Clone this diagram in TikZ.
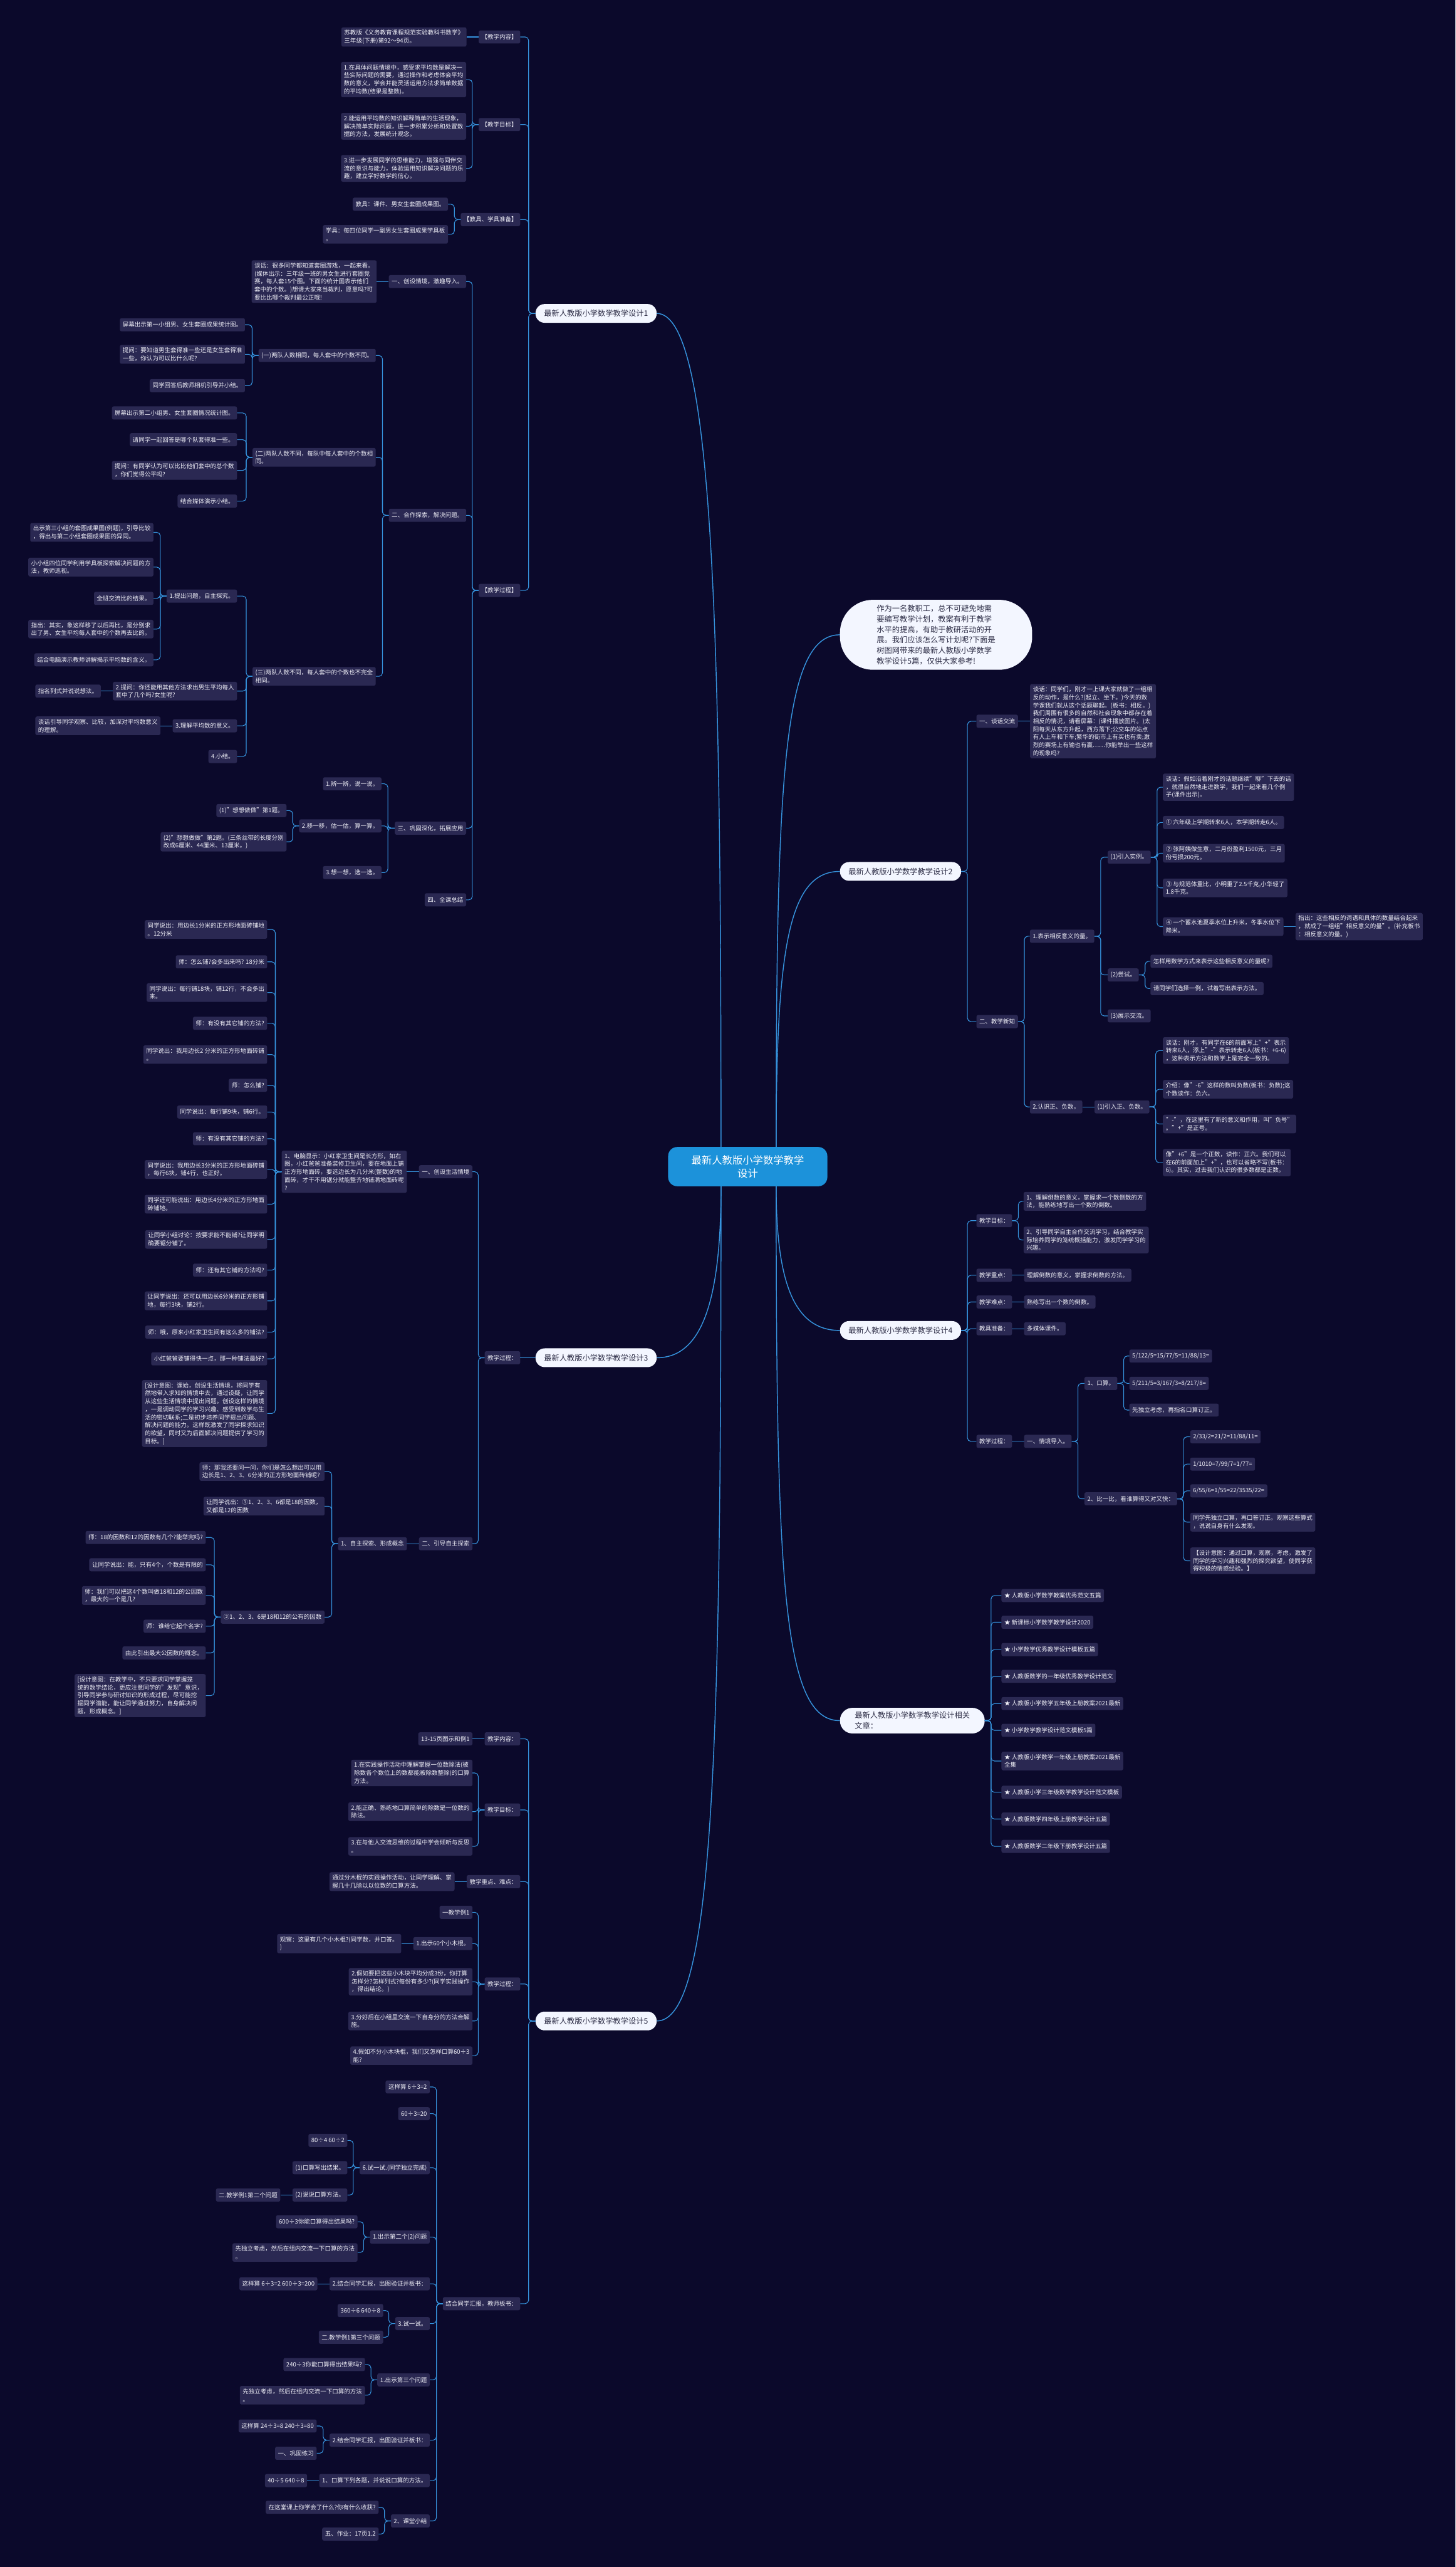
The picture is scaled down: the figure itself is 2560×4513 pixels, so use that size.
\documentclass[tikz,border=0pt]{standalone}
\usepackage{fontspec}
\setmainfont{Noto Sans CJK SC}
\usepackage{tikz}
\usetikzlibrary{positioning}
\definecolor{bgnavy}{RGB}{11, 9, 43}
\definecolor{boxfill}{RGB}{42, 40, 82}
\definecolor{boxtext}{RGB}{238, 238, 246}
\definecolor{linkblue}{RGB}{54, 148, 222}
\definecolor{rootfill}{RGB}{243, 246, 255}
\definecolor{roottext}{RGB}{45, 45, 70}
\definecolor{hubblue}{RGB}{28, 146, 218}
\newcommand\leaffont{\fontsize{10.5pt}{14pt}\selectfont}
\newcommand\rootfont{\fontsize{13.5pt}{18.5pt}\selectfont}
\newcommand\hubfont{\fontsize{18pt}{23pt}\selectfont}

\begin{document}
\begin{tikzpicture}[
    x=1pt, y=-1pt,
    box/.style={rectangle, rounded corners=3pt, fill=boxfill, text=boxtext, font=\leaffont, align=left, inner xsep=5pt, inner ysep=4.5pt, minimum height=23pt},
    rootbox/.style={rectangle, rounded corners=16pt, fill=rootfill, text=roottext, font=\rootfont, align=left, inner xsep=15pt, minimum height=33pt},
    hubbox/.style={rectangle, rounded corners=16pt, fill=hubblue, text=white, font=\hubfont, align=center, minimum width=280pt, minimum height=69pt},
    introbox/.style={rectangle, rounded corners=58pt, fill=rootfill, text=roottext, font=\rootfont, align=left, minimum width=338pt, minimum height=123pt},
    link/.style={draw=linkblue, line width=1.2pt, rounded corners=6pt},
    trunk/.style={draw=linkblue, line width=1.6pt}
]
\fill[bgnavy] (0,0) rectangle (2560,4513);
\useasboundingbox (0,0) rectangle (2560,4513);

% Centre
\node[hubbox] (hub) at (1315,2051) {最新人教版小学数学教学\\设计};
\node[introbox, anchor=west] (intro) at (1477,1116) {作为一名教职工，总不可避免地需\\要编写教学计划，教案有利于教学\\水平的提高，有助于教研活动的开\\展。我们应该怎么写计划呢?下面是\\树图网带来的最新人教版小学数学\\教学设计5篇，仅供大家参考!};

% Design 1
\node[rootbox, anchor=east] (b1) at (1155,551) {最新人教版小学数学教学设计1};
\node[box, anchor=east] (b1k1) at (915,65) {【教学内容】};
\node[box, left=21pt of b1k1] (b1k1a) {苏教版《义务教育课程规范实验教科书数学》\\三年级(下册)第92～94页。};
\node[box, anchor=east] (b1k2) at (915,219) {【教学目标】};
\node[box, anchor=east] (b1k2a) at (820,140) {1.在具体问题情境中，感受求平均数是解决一\\些实际问题的需要，通过操作和考虑体会平均\\数的意义，学会并能灵活运用方法求简单数据\\的平均数(结果是整数)。};
\node[box, anchor=east] (b1k2b) at (820,222) {2.能运用平均数的知识解释简单的生活现象，\\解决简单实际问题，进一步积累分析和处置数\\据的方法，发展统计观念。};
\node[box, anchor=east] (b1k2c) at (820,296) {3.进一步发展同学的思维能力，增强与同伴交\\流的意识与能力，体验运用知识解决问题的乐\\趣，建立学好数学的信心。};
\node[box, anchor=east] (b1k3) at (915,386) {【教具、学具准备】};
\node[box, anchor=east] (b1k3a) at (788,359) {教具：课件、男女生套圈成果图。};
\node[box, anchor=east] (b1k3b) at (788,412) {学具：每四位同学一副男女生套圈成果学具板\\。};
\node[box, anchor=east] (b1k4) at (915,1038) {【教学过程】};
\node[box, anchor=east] (b1p1) at (820,495) {一、创设情境，激趣导入。};
\node[box, left=21pt of b1p1] (b1p1a) {谈话：很多同学都知道套圈游戏，一起来看。\\(媒体出示：三年级一班的男女生进行套圈竞\\赛，每人套15个圈。下面的统计图表示他们\\套中的个数。)想请大家来当裁判，愿意吗?可\\要比比哪个裁判最公正哦!};
\node[box, anchor=east] (b1p2) at (820,906) {二、合作探索，解决问题。};
\node[box, anchor=east] (b1q1) at (661,625) {(一)两队人数相同，每人套中的个数不同。};
\node[box, anchor=east] (b1q1a) at (431,571) {屏幕出示第一小组男、女生套圈成果统计图。};
\node[box, anchor=east] (b1q1b) at (431,623) {提问：要知道男生套得准一些还是女生套得准\\一些，你认为可以比什么呢?};
\node[box, anchor=east] (b1q1c) at (431,678) {同学回答后教师相机引导并小结。};
\node[box, anchor=east] (b1q2) at (661,804) {(二)两队人数不同，每队中每人套中的个数相\\同。};
\node[box, anchor=east] (b1q2a) at (417,726) {屏幕出示第二小组男、女生套圈情况统计图。};
\node[box, anchor=east] (b1q2b) at (417,773) {请同学一起回答是哪个队套得准一些。};
\node[box, anchor=east] (b1q2c) at (417,827) {提问：有同学认为可以比比他们套中的总个数\\，你们觉得公平吗?};
\node[box, anchor=east] (b1q2d) at (417,881) {结合媒体演示小结。};
\node[box, anchor=east] (b1q3) at (661,1189) {(三)两队人数不同，每人套中的个数也不完全\\相同。};
\node[box, anchor=east] (b1r1) at (417,1048) {1.提出问题，自主探究。};
\node[box, anchor=east] (b1r1a) at (270,936) {出示第三小组的套圈成果图(例题)，引导比较\\，得出与第二小组套圈成果图的异同。};
\node[box, anchor=east] (b1r1b) at (270,997) {小小组四位同学利用学具板探索解决问题的方\\法，教师巡视。};
\node[box, anchor=east] (b1r1c) at (270,1052) {全班交流比的结果。};
\node[box, anchor=east] (b1r1d) at (270,1106) {指出：其实，象这样移了以后再比，是分别求\\出了男、女生平均每人套中的个数再去比的。};
\node[box, anchor=east] (b1r1e) at (270,1160) {结合电脑演示教师讲解揭示平均数的含义。};
\node[box, anchor=east] (b1r2) at (417,1215) {2.提问：你还能用其他方法求出男生平均每人\\套中了几个吗?女生呢?};
\node[box, left=21pt of b1r2] (b1r2a) {指名列式并说说想法。};
\node[box, anchor=east] (b1r3) at (417,1276) {3.理解平均数的意义。};
\node[box, left=21pt of b1r3] (b1r3a) {谈话引导同学观察、比较，加深对平均数意义\\的理解。};
\node[box, anchor=east] (b1r4) at (417,1330) {4.小结。};
\node[box, anchor=east] (b1p3) at (820,1456) {三、巩固深化，拓展应用};
\node[box, anchor=east] (b1s1) at (671,1378) {1.辨一辨，说一说。};
\node[box, anchor=east] (b1s2) at (671,1452) {2.移一移，估一估，算一算。};
\node[box, anchor=east] (b1s2a) at (504,1425) {(1)"想想做做"第1题。};
\node[box, anchor=east] (b1s2b) at (504,1480) {(2)"想想做做"第2题。(三条丝带的长度分别\\改成6厘米、44厘米、13厘米。)};
\node[box, anchor=east] (b1s3) at (671,1534) {3.想一想，选一选。};
\node[box, anchor=east] (b1p4) at (820,1582) {四、全课总结};

% Design 3
\node[rootbox, anchor=east] (b3) at (1155,2387) {最新人教版小学数学教学设计3};
\node[box, anchor=east] (b3k) at (915,2387) {教学过程：};
\node[box, anchor=east] (b3p1) at (831,2060) {一、创设生活情境};
\node[box, left=21pt of b3p1] (b3p1a) {1、电脑显示：小红家卫生间是长方形，如右\\图，小红爸爸准备装修卫生间，要在地面上铺\\正方形地面砖，要选边长为几分米(整数)的地\\面砖，才干不用锯分就能整齐地铺满地面砖呢\\?};
\node[box, anchor=east] (b3c1) at (470,1634) {同学说出：用边长1分米的正方形地面砖铺地\\。12分米};
\node[box, anchor=east] (b3c2) at (470,1691) {师：怎么铺?会多出来吗? 18分米};
\node[box, anchor=east] (b3c3) at (470,1745) {同学说出：每行铺18块，铺12行，不会多出\\来。};
\node[box, anchor=east] (b3c4) at (470,1799) {师：有没有其它铺的方法?};
\node[box, anchor=east] (b3c5) at (470,1854) {同学说出：我用边长2 分米的正方形地面砖铺\\。};
\node[box, anchor=east] (b3c6) at (470,1908) {师：怎么铺?};
\node[box, anchor=east] (b3c7) at (470,1955) {同学说出：每行铺9块，铺6行。};
\node[box, anchor=east] (b3c8) at (470,2002) {师：有没有其它铺的方法?};
\node[box, anchor=east] (b3c9) at (470,2056) {同学说出：我用边长3分米的正方形地面砖铺\\，每行6块，铺4行，也正好。};
\node[box, anchor=east] (b3c10) at (470,2117) {同学还可能说出：用边长4分米的正方形地面\\砖铺地。};
\node[box, anchor=east] (b3c11) at (470,2179) {让同学小组讨论：按要求能不能铺?让同学明\\确要锯分铺了。};
\node[box, anchor=east] (b3c12) at (470,2233) {师：还有其它铺的方法吗?};
\node[box, anchor=east] (b3c13) at (470,2287) {让同学说出：还可以用边长6分米的正方形铺\\地，每行3块，铺2行。};
\node[box, anchor=east] (b3c14) at (470,2342) {师：哦，原来小红家卫生间有这么多的铺法?};
\node[box, anchor=east] (b3c15) at (470,2389) {小红爸爸要铺得快一点，那一种铺法最好?};
\node[box, anchor=east] (b3c16) at (470,2485) {[设计意图：课始，创设生活情境，将同学有\\然地带入求知的情境中去，通过设疑，让同学\\从这些生活情境中提出问题。创设这样的情境\\，一是调动同学的学习兴趣、感受到数学与生\\活的密切联系;二是初步培养同学提出问题、\\解决问题的能力。这样既激发了同学探求知识\\的欲望，同时又为后面解决问题提供了学习的\\目标。]};
\node[box, anchor=east] (b3p2) at (831,2714) {二、引导自主探索};
\node[box, left=21pt of b3p2] (b3p2a) {1、自主探索、形成概念};
\node[box, anchor=east] (b3d1) at (571,2587) {师：那我还要问一问，你们是怎么想出可以用\\边长是1、2、3、6分米的正方形地面砖铺呢?};
\node[box, anchor=east] (b3d2) at (571,2648) {让同学说出：①1、2、3、6都是18的因数，\\又都是12的因数};
\node[box, anchor=east] (b3d3) at (571,2843) {②1、2、3、6是18和12的公有的因数};
\node[box, anchor=east] (b3e1) at (362,2703) {师：18的因数和12的因数有几个?能举完吗?};
\node[box, anchor=east] (b3e2) at (362,2751) {让同学说出：能，只有4个，个数是有限的};
\node[box, anchor=east] (b3e3) at (362,2805) {师：我们可以把这4个数叫做18和12的公因数\\，最大的一个是几?};
\node[box, anchor=east] (b3e4) at (362,2859) {师：谁给它起个名字?};
\node[box, anchor=east] (b3e5) at (362,2906) {由此引出最大公因数的概念。};
\node[box, anchor=east] (b3e6) at (362,2981) {[设计意图：在教学中，不只要求同学掌握笼\\统的数学结论，更应注意同学的"发现"意识，\\引导同学参与研讨知识的形成过程，尽可能挖\\掘同学潜能，能让同学通过努力，自身解决问\\题，形成概念。]};

% Design 5
\node[rootbox, anchor=east] (b5) at (1155,3553) {最新人教版小学数学教学设计5};
\node[box, anchor=east] (b5k1) at (915,3057) {教学内容：};
\node[box, left=21pt of b5k1] (b5k1a) {13-15页图示和例1};
\node[box, anchor=east] (b5k2) at (915,3182) {教学目标：};
\node[box, anchor=east] (b5k2a) at (831,3117) {1.在实践操作活动中理解掌握一位数除法(被\\除数各个数位上的数都能被除数整除)的口算\\方法。};
\node[box, anchor=east] (b5k2b) at (831,3185) {2.能正确、熟练地口算简单的除数是一位数的\\除法。};
\node[box, anchor=east] (b5k2c) at (831,3246) {3.在与他人交流思维的过程中学会倾听与反思\\。};
\node[box, anchor=east] (b5k3) at (915,3308) {教学重点、难点：};
\node[box, left=21pt of b5k3] (b5k3a) {通过分木棍的实践操作活动，让同学理解、掌\\握几十几除以以位数的口算方法。};
\node[box, anchor=east] (b5k4) at (915,3488) {教学过程：};
\node[box, anchor=east] (b5g1) at (831,3362) {一教学例1};
\node[box, anchor=east] (b5g2) at (831,3417) {1.出示60个小木棍。};
\node[box, left=21pt of b5g2] (b5g2a) {观察：这里有几个小木棍?(同学数，并口答。\\)};
\node[box, anchor=east] (b5g3) at (831,3484) {2.假如要把这些小木块平均分成3份，你打算\\怎样分?怎样列式?每份有多少?(同学实践操作\\，得出结论。)};
\node[box, anchor=east] (b5g4) at (831,3553) {3.分好后在小组里交流一下自身分的方法合解\\施。};
\node[box, anchor=east] (b5g5) at (831,3614) {4.假如不分小木块棍，我们又怎样口算60÷3\\能?};
\node[box, anchor=east] (b5k5) at (915,4050) {结合同学汇报，教师板书：};
\node[box, anchor=east] (b5h1) at (756,3669) {这样算 6÷3=2};
\node[box, anchor=east] (b5h2) at (756,3716) {60÷3=20};
\node[box, anchor=east] (b5h3) at (756,3811) {6.试一试.(同学独立完成)};
\node[box, anchor=east] (b5h3a) at (611,3763) {80÷4 60÷2};
\node[box, anchor=east] (b5h3b) at (611,3811) {(1)口算写出结果。};
\node[box, anchor=east] (b5h3c) at (611,3859) {(2)说说口算方法。};
\node[box, left=21pt of b5h3c] (b5h3d) {二.教学例1第二个问题};
\node[box, anchor=east] (b5h4) at (756,3933) {1.出示第二个(2)问题};
\node[box, anchor=east] (b5h4a) at (629,3906) {600÷3你能口算得出结果吗?};
\node[box, anchor=east] (b5h4b) at (629,3960) {先独立考虑，然后在组内交流一下口算的方法\\。};
\node[box, anchor=east] (b5h5) at (756,4015) {2.结合同学汇报，出图验证并板书：};
\node[box, left=21pt of b5h5] (b5h5a) {这样算 6÷3=2 600÷3=200};
\node[box, anchor=east] (b5h6) at (756,4085) {3.试一试。};
\node[box, anchor=east] (b5h6a) at (674,4062) {360÷6 640÷8};
\node[box, anchor=east] (b5h6b) at (674,4109) {二.教学例1第三个问题};
\node[box, anchor=east] (b5h7) at (756,4184) {1.出示第三个问题};
\node[box, anchor=east] (b5h7a) at (642,4157) {240÷3你能口算得出结果吗?};
\node[box, anchor=east] (b5h7b) at (642,4211) {先独立考虑，然后在组内交流一下口算的方法\\。};
\node[box, anchor=east] (b5h8) at (756,4290) {2.结合同学汇报，出图验证并板书：};
\node[box, anchor=east] (b5h8a) at (557,4265) {这样算 24÷3=8 240÷3=80};
\node[box, anchor=east] (b5h8b) at (557,4313) {一、巩固练习};
\node[box, anchor=east] (b5h9) at (756,4361) {1、口算下列各题，并说说口算的方法。};
\node[box, left=21pt of b5h9] (b5h9a) {40÷5 640÷8};
\node[box, anchor=east] (b5h10) at (756,4432) {2、课堂小结};
\node[box, anchor=east] (b5h10a) at (666,4408) {在这堂课上你学会了什么?你有什么收获?};
\node[box, anchor=east] (b5h10b) at (666,4455) {五、作业：17页1.2};

% Design 2
\node[rootbox, anchor=west] (b2) at (1477,1532) {最新人教版小学数学教学设计2};
\node[box, anchor=west] (b2k1) at (1717,1268) {一、谈话交流};
\node[box, right=21pt of b2k1] (b2k1a) {谈话：同学们，刚才一上课大家就做了一组相\\反的动作，是什么?(起立、坐下。)今天的数\\学课我们就从这个话题聊起。(板书：相反。)\\我们周围有很多的自然和社会现象中都存在着\\相反的情况，请看屏幕：(课件播放图片。)太\\阳每天从东方升起，西方落下;公交车的站点\\有人上车和下车;繁华的街市上有买也有卖;激\\烈的赛场上有输也有赢……你能举出一些这样\\的现象吗?};
\node[box, anchor=west] (b2k2) at (1717,1796) {二、教学新知};
\node[box, anchor=west] (b2m1) at (1811,1646) {1.表示相反意义的量。};
\node[box, anchor=west] (b2n1) at (1948,1507) {(1)引入实例。};
\node[box, anchor=west] (b2n1a) at (2045,1384) {谈话：假如沿着刚才的话题继续"聊"下去的话\\，就很自然地走进数学，我们一起来看几个例\\子(课件出示)。};
\node[box, anchor=west] (b2n1b) at (2045,1446) {① 六年级上学期转来6人，本学期转走6人。};
\node[box, anchor=west] (b2n1c) at (2045,1500) {② 张阿姨做生意，二月份盈利1500元，三月\\份亏损200元。};
\node[box, anchor=west] (b2n1d) at (2045,1561) {③ 与规范体重比，小明重了2.5千克,小华轻了\\1.8千克。};
\node[box, anchor=west] (b2n1e) at (2045,1629) {④ 一个蓄水池夏季水位上升米，冬季水位下\\降米。};
\node[box, right=21pt of b2n1e] (b2n1f) {指出：这些相反的词语和具体的数量结合起来\\，就成了一组组"相反意义的量"。(补充板书\\：相反意义的量。)};
\node[box, anchor=west] (b2n2) at (1948,1714) {(2)尝试。};
\node[box, anchor=west] (b2n2a) at (2023,1690) {怎样用数学方式来表示这些相反意义的量呢?};
\node[box, anchor=west] (b2n2b) at (2023,1738) {请同学们选择一例，试着写出表示方法。};
\node[box, anchor=west] (b2n3) at (1948,1786) {(3)展示交流。};
\node[box, anchor=west] (b2m2) at (1811,1946) {2.认识正、负数。};
\node[box, right=21pt of b2m2] (b2n4) {(1)引入正、负数。};
\node[box, anchor=west] (b2n4a) at (2045,1847) {谈话：刚才，有同学在6的前面写上"+"表示\\转来6人，添上"-"表示转走6人(板书：+6-6)\\，这种表示方法和数学上是完全一致的。};
\node[box, anchor=west] (b2n4b) at (2045,1915) {介绍：像"-6"这样的数叫负数(板书：负数);这\\个数读作：负六。};
\node[box, anchor=west] (b2n4c) at (2045,1976) {"-"，在这里有了新的意义和作用，叫"负号"\\。"+"是正号。};
\node[box, anchor=west] (b2n4d) at (2045,2044) {像"+6"是一个正数，读作：正六。我们可以\\在6的前面加上"+"，也可以省略不写(板书：\\6)。其实，过去我们认识的很多数都是正数。};

% Design 4
\node[rootbox, anchor=west] (b4) at (1477,2339) {最新人教版小学数学教学设计4};
\node[box, anchor=west] (b4k1) at (1717,2146) {教学目标：};
\node[box, anchor=west] (b4k1a) at (1800,2112) {1、理解倒数的意义，掌握求一个数倒数的方\\法，能熟练地写出一个数的倒数。};
\node[box, anchor=west] (b4k1b) at (1800,2180) {2、引导同学自主合作交流学习，结合教学实\\际培养同学的笼统概括能力，激发同学学习的\\兴趣。};
\node[box, anchor=west] (b4k2) at (1717,2242) {教学重点：};
\node[box, right=21pt of b4k2] (b4k2a) {理解倒数的意义，掌握求倒数的方法。};
\node[box, anchor=west] (b4k3) at (1717,2289) {教学难点：};
\node[box, right=21pt of b4k3] (b4k3a) {熟练写出一个数的倒数。};
\node[box, anchor=west] (b4k4) at (1717,2336) {教具准备：};
\node[box, right=21pt of b4k4] (b4k4a) {多媒体课件。};
\node[box, anchor=west] (b4k5) at (1717,2534) {教学过程：};
\node[box, right=21pt of b4k5] (b4j) {一、情境导入。};
\node[box, anchor=west] (b4j1) at (1907,2432) {1、口算。};
\node[box, anchor=west] (b4j1a) at (1986,2384) {5/122/5=15/77/5=11/88/13=};
\node[box, anchor=west] (b4j1b) at (1986,2432) {5/211/5=3/167/3=8/217/8=};
\node[box, anchor=west] (b4j1c) at (1986,2479) {先独立考虑，再指名口算订正。};
\node[box, anchor=west] (b4j2) at (1907,2635) {2、比一比，看谁算得又对又快：};
\node[box, anchor=west] (b4j2a) at (2093,2526) {2/33/2=21/2=11/88/11=};
\node[box, anchor=west] (b4j2b) at (2093,2574) {1/1010=7/99/7=1/77=};
\node[box, anchor=west] (b4j2c) at (2093,2621) {6/55/6=1/55=22/3535/22=};
\node[box, anchor=west] (b4j2d) at (2093,2676) {同学先独立口算，再口答订正。观察这些算式\\，说说自身有什么发现。};
\node[box, anchor=west] (b4j2e) at (2093,2744) {【设计意图：通过口算，观察，考虑，激发了\\同学的学习兴趣和强烈的探究欲望，使同学获\\得积极的情感经验。】};

% Related articles
\node[rootbox, anchor=west, inner xsep=26pt, inner ysep=7pt, rounded corners=22pt] (b6) at (1477,3025) {最新人教版小学数学教学设计相关\\文章：};
\node[box, anchor=west] (b6a1) at (1761,2805) {★ 人教版小学数学教案优秀范文五篇};
\node[box, anchor=west] (b6a2) at (1761,2852) {★ 新课标小学数学教学设计2020};
\node[box, anchor=west] (b6a3) at (1761,2900) {★ 小学数学优秀教学设计模板五篇};
\node[box, anchor=west] (b6a4) at (1761,2947) {★ 人教版数学的一年级优秀教学设计范文};
\node[box, anchor=west] (b6a5) at (1761,2995) {★ 人教版小学数学五年级上册教案2021最新};
\node[box, anchor=west] (b6a6) at (1761,3042) {★ 小学数学教学设计范文模板5篇};
\node[box, anchor=west] (b6a7) at (1761,3096) {★ 人教版小学数学一年级上册教案2021最新\\全集};
\node[box, anchor=west] (b6a8) at (1761,3151) {★ 人教版小学三年级数学教学设计范文模板};
\node[box, anchor=west] (b6a9) at (1761,3198) {★ 人教版数学四年级上册教学设计五篇};
\node[box, anchor=west] (b6a10) at (1761,3246) {★ 人教版数学二年级下册教学设计五篇};

% Trunk curves from the centre
\draw[trunk] ([xshift=-47pt]hub.north) .. controls +(0,-900) and +(100,0) .. (b1.east);
\draw[trunk] ([xshift=-47pt]hub.south) .. controls +(0,200) and +(80,0) .. (b3.east);
\draw[trunk] ([xshift=-47pt]hub.south) .. controls +(0,1000) and +(100,0) .. (b5.east);
\draw[trunk] ([xshift=50pt]hub.north) .. controls +(0,-650) and +(-100,0) .. (intro.west);
\draw[trunk] ([xshift=50pt]hub.north) .. controls +(0,-350) and +(-90,0) .. (b2.west);
\draw[trunk] ([xshift=50pt]hub.south) .. controls +(0,170) and +(-80,0) .. (b4.west);
\draw[trunk] ([xshift=50pt]hub.south) .. controls +(0,700) and +(-100,0) .. (b6.west);

% Links, design 1
\foreach \c in {b1k1,b1k2,b1k3,b1k4} \draw[link] (b1.west) -- ++(-12,0) |- (\c.east);
\draw[link] (b1k1.west) -- (b1k1a.east);
\foreach \c in {b1k2a,b1k2b,b1k2c} \draw[link] (b1k2.west) -- ++(-11,0) |- (\c.east);
\foreach \c in {b1k3a,b1k3b} \draw[link] (b1k3.west) -- ++(-11,0) |- (\c.east);
\foreach \c in {b1p1,b1p2,b1p3,b1p4} \draw[link] (b1k4.west) -- ++(-11,0) |- (\c.east);
\draw[link] (b1p1.west) -- (b1p1a.east);
\foreach \c in {b1q1,b1q2,b1q3} \draw[link] (b1p2.west) -- ++(-11,0) |- (\c.east);
\foreach \c in {b1q1a,b1q1b,b1q1c} \draw[link] (b1q1.west) -- ++(-11,0) |- (\c.east);
\foreach \c in {b1q2a,b1q2b,b1q2c,b1q2d} \draw[link] (b1q2.west) -- ++(-11,0) |- (\c.east);
\foreach \c in {b1r1,b1r2,b1r3,b1r4} \draw[link] (b1q3.west) -- ++(-11,0) |- (\c.east);
\foreach \c in {b1r1a,b1r1b,b1r1c,b1r1d,b1r1e} \draw[link] (b1r1.west) -- ++(-11,0) |- (\c.east);
\draw[link] (b1r2.west) -- (b1r2a.east);
\draw[link] (b1r3.west) -- (b1r3a.east);
\foreach \c in {b1s1,b1s2,b1s3} \draw[link] (b1p3.west) -- ++(-12,0) |- (\c.east);
\foreach \c in {b1s2a,b1s2b} \draw[link] (b1s2.west) -- ++(-11,0) |- (\c.east);

% Links, design 3
\draw[link] (b3.west) -- (b3k.east);
\foreach \c in {b3p1,b3p2} \draw[link] (b3k.west) -- ++(-11,0) |- (\c.east);
\draw[link] (b3p1.west) -- (b3p1a.east);
\foreach \i in {1,...,16} \draw[link] (b3p1a.west) -- ++(-11,0) |- (b3c\i.east);
\draw[link] (b3p2.west) -- (b3p2a.east);
\foreach \c in {b3d1,b3d2,b3d3} \draw[link] (b3p2a.west) -- ++(-11,0) |- (\c.east);
\foreach \i in {1,...,6} \draw[link] (b3d3.west) -- ++(-11,0) |- (b3e\i.east);

% Links, design 5
\foreach \c in {b5k1,b5k2,b5k3,b5k4,b5k5} \draw[link] (b5.west) -- ++(-12,0) |- (\c.east);
\draw[link] (b5k1.west) -- (b5k1a.east);
\foreach \c in {b5k2a,b5k2b,b5k2c} \draw[link] (b5k2.west) -- ++(-11,0) |- (\c.east);
\draw[link] (b5k3.west) -- (b5k3a.east);
\foreach \i in {1,...,5} \draw[link] (b5k4.west) -- ++(-11,0) |- (b5g\i.east);
\draw[link] (b5g2.west) -- (b5g2a.east);
\foreach \i in {1,...,10} \draw[link] (b5k5.west) -- ++(-11,0) |- (b5h\i.east);
\foreach \c in {b5h3a,b5h3b,b5h3c} \draw[link] (b5h3.west) -- ++(-11,0) |- (\c.east);
\draw[link] (b5h3c.west) -- (b5h3d.east);
\foreach \c in {b5h4a,b5h4b} \draw[link] (b5h4.west) -- ++(-11,0) |- (\c.east);
\draw[link] (b5h5.west) -- (b5h5a.east);
\foreach \c in {b5h6a,b5h6b} \draw[link] (b5h6.west) -- ++(-11,0) |- (\c.east);
\foreach \c in {b5h7a,b5h7b} \draw[link] (b5h7.west) -- ++(-11,0) |- (\c.east);
\foreach \c in {b5h8a,b5h8b} \draw[link] (b5h8.west) -- ++(-11,0) |- (\c.east);
\draw[link] (b5h9.west) -- (b5h9a.east);
\foreach \c in {b5h10a,b5h10b} \draw[link] (b5h10.west) -- ++(-11,0) |- (\c.east);

% Links, design 2
\foreach \c in {b2k1,b2k2} \draw[link] (b2.east) -- ++(11,0) |- (\c.west);
\draw[link] (b2k1.east) -- (b2k1a.west);
\foreach \c in {b2m1,b2m2} \draw[link] (b2k2.east) -- ++(11,0) |- (\c.west);
\foreach \c in {b2n1,b2n2,b2n3} \draw[link] (b2m1.east) -- ++(11,0) |- (\c.west);
\foreach \c in {b2n1a,b2n1b,b2n1c,b2n1d,b2n1e} \draw[link] (b2n1.east) -- ++(11,0) |- (\c.west);
\draw[link] (b2n1e.east) -- (b2n1f.west);
\foreach \c in {b2n2a,b2n2b} \draw[link] (b2n2.east) -- ++(11,0) |- (\c.west);
\draw[link] (b2m2.east) -- (b2n4.west);
\foreach \c in {b2n4a,b2n4b,b2n4c,b2n4d} \draw[link] (b2n4.east) -- ++(11,0) |- (\c.west);

% Links, design 4
\foreach \c in {b4k1,b4k2,b4k3,b4k4,b4k5} \draw[link] (b4.east) -- ++(11,0) |- (\c.west);
\foreach \c in {b4k1a,b4k1b} \draw[link] (b4k1.east) -- ++(11,0) |- (\c.west);
\draw[link] (b4k2.east) -- (b4k2a.west);
\draw[link] (b4k3.east) -- (b4k3a.west);
\draw[link] (b4k4.east) -- (b4k4a.west);
\draw[link] (b4k5.east) -- (b4j.west);
\foreach \c in {b4j1,b4j2} \draw[link] (b4j.east) -- ++(11,0) |- (\c.west);
\foreach \c in {b4j1a,b4j1b,b4j1c} \draw[link] (b4j1.east) -- ++(11,0) |- (\c.west);
\foreach \c in {b4j2a,b4j2b,b4j2c,b4j2d,b4j2e} \draw[link] (b4j2.east) -- ++(11,0) |- (\c.west);

% Links, related articles
\foreach \i in {1,...,10} \draw[link] (b6.east) -- ++(11,0) |- (b6a\i.west);
\end{tikzpicture}
\end{document}
